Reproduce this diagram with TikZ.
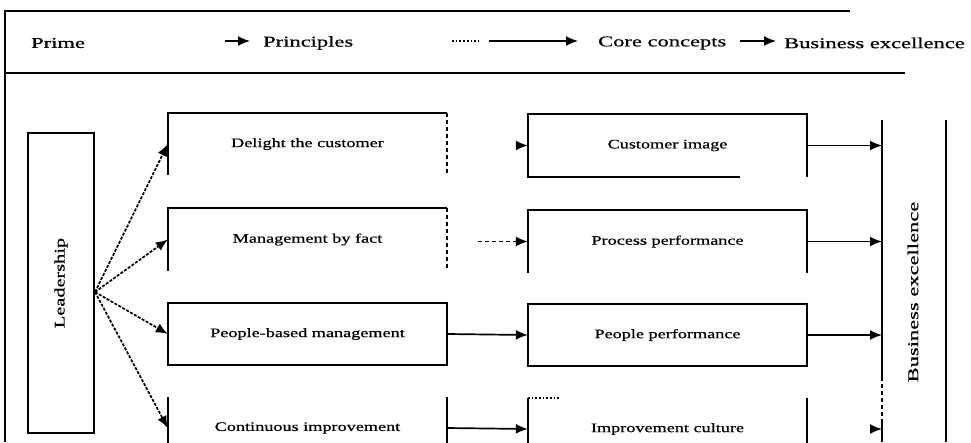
\documentclass[tikz,border=0pt]{standalone}
\usepackage{fontspec}
\setmainfont[FakeStretch=1.4,FakeBold=0.6]{Liberation Serif}
\newfontfamily\headf[FakeStretch=1.5,FakeBold=0.6]{Liberation Serif}
\usetikzlibrary{arrows.meta}
\begin{document}
\begin{tikzpicture}[x=1pt,y=-1pt,
  ln/.style={line width=1.7pt},
  arr/.style={line width=1.7pt,-{Latex[length=12pt,width=10pt]}},
  dsh/.style={dash pattern=on 4pt off 3pt},
  boxtext/.style={font=\fontsize{13}{15}\selectfont},
  headtext/.style={font=\headf\fontsize{15}{17}\selectfont, inner sep=0pt, anchor=west},
  box/.style={minimum width=279pt, minimum height=62pt, inner sep=0pt, boxtext}]
\useasboundingbox (0,0) rectangle (971,442);
\clip (0,0) rectangle (971,442);
\fill[white] (0,0) rectangle (971,442);

% frame
\coordinate (ftl) at (5,11);
\coordinate (ftr) at (850,11);
\coordinate (fbl) at (5,442);
\coordinate (hl) at (5,73);
\coordinate (hr) at (905,73);
\draw[ln] (ftr) -- (ftl) -- (fbl);
\draw[ln] (hl) -- (hr);

% header
\node[headtext] (prime) at (31,43) {Prime};
\node[headtext] (princ) at (263,43) {Principles};
\node[headtext] (core) at (598,43) {Core concepts};
\node[headtext] (bex) at (784,43) {Business excellence};
\draw[arr] ([xshift=-38pt,yshift=2pt]princ.west) -- ([xshift=-13pt,yshift=2pt]princ.west);
\draw[ln,dotted] ([xshift=-146pt,yshift=2pt]core.west) -- ([xshift=-120pt,yshift=2pt]core.west);
\draw[arr] ([xshift=-109pt,yshift=2pt]core.west) -- ([xshift=-20pt,yshift=2pt]core.west);
\draw[arr] ([xshift=-44pt,yshift=2pt]bex.west) -- ([xshift=-8pt,yshift=2pt]bex.west);

% leadership
\node[draw, ln, rotate=90, minimum width=300pt, minimum height=66pt, inner sep=0pt,
      font=\fontsize{14.5}{16}\selectfont] (lead) at (61,283) {Leadership};
\coordinate (fan) at (95,292);

% principles column
\node[box] (d1) at (307.5,144) {Delight the customer};
\node[box] (d2) at (307.5,239.5) {Management by fact};
\node[box] (d3) at (307.5,334) {People-based management};
\node[box] (d4) at (307.5,428) {Continuous improvement};

\draw[ln] (d1.south west) -- (d1.north west) -- (d1.north east);
\draw[ln,dsh] (d1.north east) -- (d1.south east);
\draw[ln] (d2.south west) -- (d2.north west) -- (d2.north east);
\draw[ln,dsh] (d2.north east) -- (d2.south east);
\draw[ln] (d3.south west) rectangle (d3.north east);
\draw[ln] (d4.north west) -- (d4.south west);
\draw[ln] (d4.north east) -- (d4.south east);

% core concepts column
\node[box] (c1) at (667.5,145.5) {Customer image};
\node[box] (c2) at (667.5,241.5) {Process performance};
\node[box] (c3) at (667.5,335) {People performance};
\node[box] (c4) at (667.5,429) {Improvement culture};

\draw[ln] ([xshift=212pt]c1.south west) -- (c1.south west) -- (c1.north west) -- (c1.north east) -- (c1.south east);
\draw[ln] (c2.south west) -- (c2.north west) -- (c2.north east) -- (c2.south east);
\draw[ln] (c3.south west) rectangle (c3.north east);
\draw[ln] (c4.north west) -- (c4.south west);
\draw[ln,dotted] (c4.north west) -- ([xshift=32pt]c4.north west);
\draw[ln] (c4.north east) -- (c4.south east);

% fan arrows
\foreach \t in {d1,d2,d3,d4}
  \draw[arr,dash pattern=on 3pt off 1.5pt] (fan) -- (\t.west);

% principles -> core concepts
\draw[arr] ([xshift=-12pt]c1.west) -- (c1.west);
\draw[arr,dsh] ([xshift=-50pt]c2.west) -- (c2.west);
\draw[arr] (d3.east) -- (c3.west);
\draw[arr] (d4.east) -- (c4.west);

% business excellence bar
\coordinate (bt) at (882,120);
\coordinate (bb) at (882,442);
\coordinate (bd1) at (882,377);
\coordinate (bd2) at (882,420);
\draw[ln] (bt) -- (bd1);
\draw[ln,dsh] (bd1) -- (bd2);
\draw[ln] (bd2) -- (bb);
\coordinate (ot) at (946,120);
\coordinate (ob) at (946,442);
\draw[ln] (ot) -- (ob);
\node[rotate=90, font=\headf\fontsize{15}{17}\selectfont] (belabel) at (913,292) {Business excellence};

\coordinate (b1) at (c1.east -| bt);
\coordinate (b2) at (c2.east -| bt);
\coordinate (b3) at (c3.east -| bt);
\coordinate (b4) at (c4.east -| bt);
\draw[arr] (c1.east) -- (b1);
\draw[arr] (c2.east) -- (b2);
\draw[arr] (c3.east) -- (b3);
\draw[arr] ([xshift=-12pt]b4) -- (b4);
\end{tikzpicture}
\end{document}
